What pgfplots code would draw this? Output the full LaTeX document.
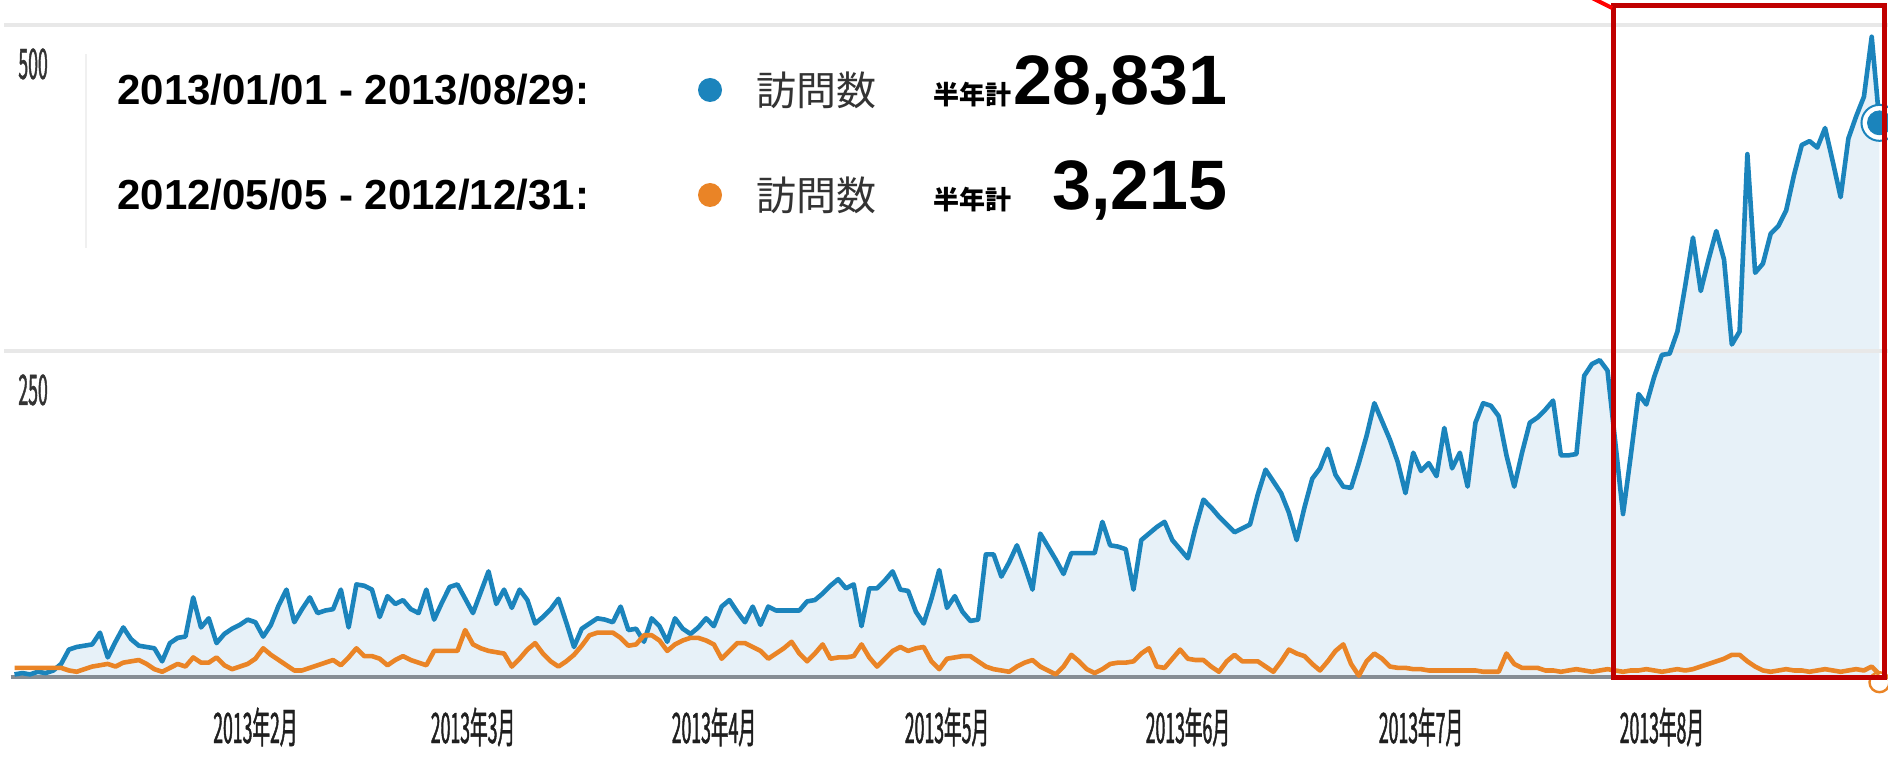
\documentclass[border=0pt]{standalone}
\usepackage{pgfplots}
\pgfplotsset{compat=1.18}
\usepackage{pgfplotstable}
\usepackage{fontspec}
\setmainfont{Liberation Sans}
\newfontfamily\jpfont{Noto Sans CJK JP}
\newfontfamily\tickfont[FakeStretch=0.42,FakeBold=1]{Noto Sans CJK JP}
\definecolor{gablue}{HTML}{1B84BC}
\definecolor{gaorange}{HTML}{EA8426}
\definecolor{gafill}{HTML}{E7F1F8}
\definecolor{gagrid}{HTML}{E8E8E8}
\definecolor{gabase}{HTML}{868D94}
\definecolor{boxred}{HTML}{C00000}
\pgfplotstableread[row sep=\\]{d b o\\
0 2 7\\1 3 7\\2 2 7\\3 4 7\\4 3 7\\5 5 7\\6 10 7\\7 21 5\\8 23 4\\9 24 6\\
10 25 8\\11 34 9\\12 15 10\\13 27 8\\14 38 11\\15 29 12\\16 24 13\\17 23 10\\18 22 6\\19 12 4\\
20 26 7\\21 30 10\\22 31 8\\23 61 15\\24 38 11\\25 45 11\\26 26 15\\27 33 9\\28 37 6\\29 40 8\\
30 44 10\\31 42 14\\32 31 22\\33 40 17\\34 55 13\\35 67 9\\36 42 5\\37 52 5\\38 61 7\\39 49 9\\
40 51 11\\41 52 13\\42 67 9\\43 38 15\\44 71 22\\45 70 16\\46 67 16\\47 46 14\\48 62 9\\49 56 13\\
50 59 16\\51 52 13\\52 49 11\\53 67 9\\54 44 20\\55 57 20\\56 69 20\\57 71 20\\58 60 36\\59 49 25\\
60 65 22\\61 81 20\\62 56 19\\63 67 18\\64 53 8\\65 67 14\\66 59 21\\67 41 26\\68 46 18\\69 52 12\\
70 60 8\\71 42 12\\72 23 17\\73 37 24\\74 41 32\\75 45 34\\76 44 34\\77 42 34\\78 54 30\\79 36 24\\
80 37 25\\81 27 32\\82 45 32\\83 39 28\\84 27 20\\85 45 25\\86 37 28\\87 33 30\\88 38 30\\89 45 28\\
90 39 25\\91 54 14\\92 59 20\\93 50 26\\94 42 26\\95 54 23\\96 40 20\\97 54 14\\98 51 18\\99 51 22\\
100 51 27\\101 51 18\\102 58 12\\103 59 18\\104 64 25\\105 70 14\\106 75 15\\107 68 15\\108 71 16\\109 39 25\\
110 68 15\\111 68 8\\112 74 14\\113 81 20\\114 67 23\\115 66 20\\116 50 22\\117 41 23\\118 60 12\\119 82 6\\
120 53 14\\121 62 15\\122 50 16\\123 43 16\\124 44 12\\125 94 8\\126 94 6\\127 77 5\\128 88 4\\129 101 8\\
130 85 11\\131 67 13\\132 110 8\\133 100 5\\134 90 2\\135 79 8\\136 95 17\\137 95 12\\138 95 6\\139 95 3\\
140 119 6\\141 101 10\\142 100 11\\143 98 11\\144 67 12\\145 105 18\\146 110 22\\147 115 8\\148 119 7\\149 105 14\\
150 98 21\\151 91 14\\152 115 13\\153 136 13\\154 130 8\\155 123 4\\156 117 12\\157 111 17\\158 114 12\\159 117 12\\
160 140 12\\161 159 8\\162 150 4\\163 141 12\\164 126 21\\165 105 18\\166 130 16\\167 152 10\\168 160 5\\169 175 12\\
170 155 20\\171 146 25\\172 145 10\\173 164 1\\174 185 12\\175 210 18\\176 196 14\\177 182 8\\178 165 7\\179 141 7\\
180 172 6\\181 158 6\\182 164 5\\183 154 5\\184 191 5\\185 160 5\\186 172 5\\187 146 5\\188 195 5\\189 210 4\\
190 208 4\\191 200 4\\192 170 18\\193 146 10\\194 172 7\\195 195 7\\196 199 7\\197 205 5\\198 212 5\\199 170 4\\
200 170 5\\201 171 6\\202 231 5\\203 240 4\\204 243 5\\205 235 6\\206 180 5\\207 125 4\\208 170 5\\209 217 5\\
210 209 6\\211 230 5\\212 247 4\\213 248 5\\214 265 6\\215 300 5\\216 337 6\\217 296 8\\218 320 10\\219 342 12\\
220 320 14\\221 255 17\\222 265 17\\223 401 12\\224 310 8\\225 317 5\\226 340 4\\227 346 5\\228 358 6\\229 385 5\\
230 408 5\\231 411 4\\232 406 5\\233 421 6\\234 395 5\\235 368 4\\236 413 5\\237 430 6\\238 445 5\\239 491 8\\
240 425 2\\
}\visits
\begin{document}
\begin{tikzpicture}
\begin{axis}[
  at={(0,0)}, anchor=south west,
  scale only axis, width=944pt, height=378pt,
  xmin=-1.866, xmax=241.1, ymin=-60.6, ymax=519.2,
  axis line style={draw=none}, tick style={draw=none},
  xtick={31,59,90,120,151,181,212},
  xticklabels={2013年2月,2013年3月,2013年4月,2013年5月,2013年6月,2013年7月,2013年8月},
  xticklabel style={anchor=center, yshift=14.5pt, inner sep=0pt, font={\tickfont\fontsize{21}{22}\selectfont}, text=black!88},
  ytick={250,500}, yticklabels={250,500},
  yticklabel style={anchor=north west, inner sep=0pt, xshift=9pt, yshift=-11.5pt, font={\tickfont\fontsize{21}{22}\selectfont}, text=black!80},
  clip=false,
]
\addplot[fill=gafill, draw=none] table[x=d,y=b]{\visits} \closedcycle;
\addplot[gagrid, line width=2pt] coordinates {(-1.3,250) (241.1,250)};
\addplot[gagrid, line width=2pt] coordinates {(-1.3,500) (241.1,500)};
\addplot[gabase, line width=2pt] coordinates {(-0.5,0) (241.1,0)};
\addplot[gablue, line width=2.3pt, line join=round] table[x=d,y=b]{\visits};
\addplot[gaorange, line width=2.3pt, line join=round] table[x=d,y=o]{\visits};
\addplot[only marks, mark=*, mark size=9pt, mark options={fill=white, draw=gablue, line width=1pt}] coordinates {(240,425)};
\addplot[only marks, mark=*, mark size=6pt, mark options={fill=gablue, draw=gablue}] coordinates {(240,425)};
\addplot[only marks, mark=o, mark size=5pt, mark options={draw=gaorange, line width=1.2pt}] coordinates {(240,-4)};
\end{axis}
% legend box
\draw[black!6, line width=1pt] (43pt,254pt) -- (43pt,351pt);
\node[anchor=base west, inner sep=0pt, font=\bfseries\fontsize{21}{21}\selectfont] at (58.5pt,325.5pt) {2013/01/01 - 2013/08/29:};
\node[anchor=base west, inner sep=0pt, font=\bfseries\fontsize{21}{21}\selectfont] at (58.5pt,273pt) {2012/05/05 - 2012/12/31:};
\fill[gablue] (355pt,333pt) circle (6pt);
\fill[gaorange] (355pt,280.5pt) circle (6pt);
\node[anchor=west, inner sep=0pt, font=\jpfont\fontsize{20}{20}\selectfont, text=black!80] at (378pt,333pt) {訪問数};
\node[anchor=west, inner sep=0pt, font=\jpfont\fontsize{20}{20}\selectfont, text=black!80] at (378pt,280.5pt) {訪問数};
\node[anchor=base west, inner sep=0pt, font=\jpfont\bfseries\fontsize{13}{13}\selectfont] at (466.5pt,325.5pt) {半年計};
\node[anchor=base west, inner sep=0pt, font=\jpfont\bfseries\fontsize{13}{13}\selectfont] at (466.5pt,273pt) {半年計};
\node[anchor=base east, inner sep=0pt, font=\bfseries\fontsize{35}{35}\selectfont] at (614pt,325.5pt) {28,831};
\node[anchor=base east, inner sep=0pt, font=\bfseries\fontsize{35}{35}\selectfont] at (614pt,273pt) {3,215};
% red highlight
\draw[boxred, line width=2.5pt] (806.5pt,39.5pt) rectangle (942pt,375pt);
\draw[red, line width=2pt] (792pt,381pt) -- (806pt,374pt);
\pgfresetboundingbox
\useasboundingbox (0,0) rectangle (944pt,378pt);
\end{tikzpicture}
\end{document}
